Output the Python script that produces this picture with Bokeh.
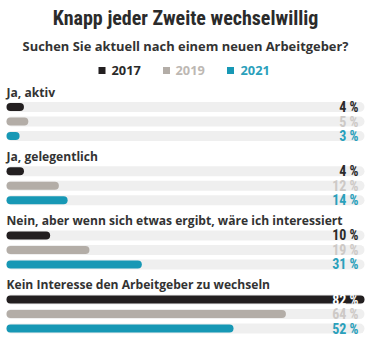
from bokeh.plotting import figure
from bokeh.models import Range1d, Label
from bokeh.core.properties import value
from bokeh.embed import file_html
from bokeh.resources import INLINE

title = "Knapp jeder Zweite wechselwillig"
subtitle = "Suchen Sie aktuell nach einem neuen Arbeitgeber?"
categories = ["Ja, aktiv", "Ja, gelegentlich",
              "Nein, aber wenn sich etwas ergibt, wäre ich interessiert",
              "Kein Interesse den Arbeitgeber zu wechseln"]
years = ["2017", "2019", "2021"]
v2017 = [4, 4, 10, 82]
v2019 = [5, 12, 19, 64]
v2021 = [3, 14, 31, 52]

bar_colors = ["#231f20", "#b3ada7", "#1798b5"]
label_colors = ["#2a2a2a", "#cdc9c6", "#2aa0bb"]
legend_colors = ["#2a2a2a", "#bdb8b3", "#2aa0bb"]

W, H = 375, 342
LEFT_PX, RIGHT_PX = 6, 364
track_end = max(v2017 + v2019 + v2021)
ppu = (RIGHT_PX - LEFT_PX) / track_end
x_start = -LEFT_PX / ppu
x_end = x_start + W / ppu

def px2x(px):
    return x_start + px / ppu

p = figure(width=W, height=H, x_range=Range1d(x_start, x_end), y_range=Range1d(H, 0),
           output_backend="svg", toolbar_location=None, min_border=0,
           x_axis_location=None, y_axis_location=None)
p.grid.visible = False
p.outline_line_color = None
p.background_fill_color = "white"

NARROW = "Roboto Condensed"
SANS = "Open Sans"
VALF = "Roboto Condensed"

label_y0 = 91.5
group_gap = 64.2
bar_off0 = 15
row_gap = 14.5
BAR_W = 8
TRACK_W = 10

series = [v2017, v2019, v2021]
ys, vals, cols, txt, tcols = [], [], [], [], []
for g in range(len(categories)):
    for k in range(len(years)):
        v = series[k][g]
        ys.append(label_y0 + g * group_gap + bar_off0 + k * row_gap)
        vals.append(v)
        cols.append(bar_colors[k])
        txt.append(f"{v} %")
        tcols.append("white" if v >= track_end - 6 else label_colors[k])

label_ys = [label_y0 + g * group_gap for g in range(len(categories))]

# tracks (pill shaped: round caps)
tcap = (TRACK_W / 2) / ppu
p.segment(x0=[tcap] * len(ys), x1=[track_end - tcap] * len(ys), y0=ys, y1=ys,
          line_color="#efefef", line_width=TRACK_W, line_cap="round")
# bars
bcap = (BAR_W / 2) / ppu
p.segment(x0=[bcap] * len(ys), x1=[v - bcap for v in vals], y0=ys, y1=ys,
          line_color=cols, line_width=BAR_W, line_cap="round")
# value labels
p.text(x=[track_end] * len(ys), y=ys, text=txt, x_offset=-6, text_align="right", text_baseline="middle",
       text_color=tcols, text_font=value(VALF), text_font_style="bold", text_font_size="14px")
# category labels
p.text(x=[0] * len(label_ys), y=label_ys, text=categories, text_align="left", text_baseline="middle",
       text_color="#333333", text_font=value(SANS), text_font_style="bold", text_font_size="12.1px")

# title & subtitle
CX = 185
p.add_layout(Label(x=CX, y=17, x_units="screen", y_units="data", text=title, text_align="center",
                   text_baseline="middle", text_font=NARROW, text_font_style="bold",
                   text_font_size="20px", text_color="#2b2b2b"))
p.add_layout(Label(x=CX, y=45, x_units="screen", y_units="data", text=subtitle, text_align="center",
                   text_baseline="middle", text_font=SANS, text_font_style="bold",
                   text_font_size="12.9px", text_color="#333333"))

# legend
sq_px = [101.5, 166, 230]
tx_px = [111, 175, 240]
p.scatter(x=[px2x(s) for s in sq_px], y=[70] * 3, marker="square", size=7, fill_color=bar_colors, line_color=None)
for k in range(3):
    p.add_layout(Label(x=tx_px[k], y=70, x_units="screen", y_units="data", text=years[k], text_align="left",
                       text_baseline="middle", text_font=SANS, text_font_style="bold",
                       text_font_size="12.8px", text_color=legend_colors[k]))

open("out.html", "w").write(file_html(p, INLINE))
